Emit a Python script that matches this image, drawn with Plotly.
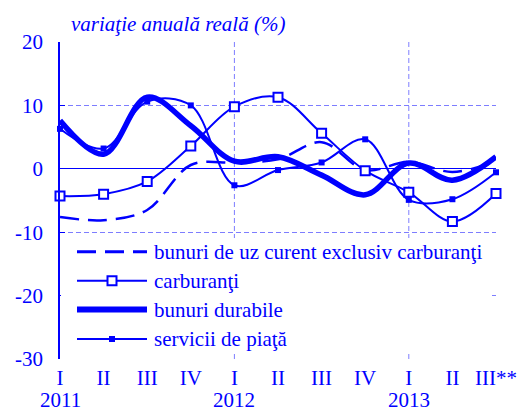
import plotly.graph_objects as go

quarters = ["I", "II", "III", "IV", "I", "II", "III", "IV", "I", "II", "III**"]
years = ["2011", "2012", "2013"]
year_pos = [0, 4, 8]
x_idx = list(range(len(quarters)))

uz_curent = [-7.6, -8.1, -6.5, 0.6, 1.0, 1.5, 4.2, -0.2, 1.1, -0.5, 1.2]
carburanti = [-4.3, -4.0, -2.0, 3.6, 9.8, 11.3, 5.6, -0.3, -3.7, -8.3, -3.9]
durabile = [7.6, 2.3, 11.3, 6.8, 1.2, 1.9, -1.0, -4.1, 0.9, -1.8, 1.9]
servicii = [6.3, 3.2, 10.6, 10.0, -2.6, -0.2, 1.0, 4.65, -4.9, -4.8, -0.55]

names = ["bunuri de uz curent exclusiv carburanţi", "carburanţi",
         "bunuri durabile", "servicii de piaţă"]
y_ticks = [-30, -20, -10, 0, 10, 20]
y_ticktext = ["-30", "-20", "-10", "0", "10", "20"]

BLUE = "#0000FF"
GRID = "rgba(70,70,255,0.7)"
FONT = "Liberation Serif"

fig = go.Figure()
fig.add_trace(go.Scatter(x=x_idx, y=uz_curent, mode="lines", name=names[0],
                         line=dict(color=BLUE, width=2.5, dash="19px,9px", shape="spline"),
                         cliponaxis=False))
fig.add_trace(go.Scatter(x=x_idx, y=carburanti, mode="lines+markers", name=names[1],
                         line=dict(color=BLUE, width=2, shape="spline"),
                         marker=dict(symbol="square", size=9, color="white",
                                     line=dict(color=BLUE, width=2)),
                         cliponaxis=False))
fig.add_trace(go.Scatter(x=x_idx, y=durabile, mode="lines", name=names[2],
                         line=dict(color=BLUE, width=5.5, shape="spline"),
                         cliponaxis=False))
fig.add_trace(go.Scatter(x=x_idx, y=servicii, mode="lines+markers", name=names[3],
                         line=dict(color=BLUE, width=2, shape="spline"),
                         marker=dict(symbol="square", size=6, color=BLUE),
                         cliponaxis=False))

# plot area geometry (px)
L, R, T, B = 60, 21, 42, 53
W, H = 517, 412
pw, ph = W - L - R, H - T - B


def px(xp):
    return (xp - L) / pw


def py(yp):
    return (H - B - yp) / ph


shapes = []
# vertical dashed gridlines at year starts
for xv in year_pos[1:]:
    shapes.append(dict(type="line", xref="x", yref="paper", x0=xv, x1=xv, y0=0, y1=1,
                       line=dict(color=GRID, width=1, dash="5px,3px"), layer="below"))
# legend box
shapes.append(dict(type="rect", xref="paper", yref="paper", x0=px(61), x1=px(490),
                   y0=py(354), y1=py(238), fillcolor="white", line=dict(width=0),
                   layer="above"))

rows = [251.7, 280.7, 309.5, 339]
annotations = []
for i, (nm, yr) in enumerate(zip(names, rows)):
    if i == 0:
        ln = dict(color=BLUE, width=3, dash="19px,9px")
    elif i == 2:
        ln = dict(color=BLUE, width=6)
    else:
        ln = dict(color=BLUE, width=2)
    shapes.append(dict(type="line", xref="paper", yref="paper", x0=px(77), x1=px(147),
                       y0=py(yr), y1=py(yr), line=ln, layer="above"))
    if i == 1:
        shapes.append(dict(type="rect", xref="paper", yref="paper", xsizemode="pixel",
                           ysizemode="pixel", xanchor=px(112), yanchor=py(yr),
                           x0=-4.5, x1=4.5, y0=-4.5, y1=4.5, fillcolor="white",
                           line=dict(color=BLUE, width=2), layer="above"))
    if i == 3:
        shapes.append(dict(type="rect", xref="paper", yref="paper", xsizemode="pixel",
                           ysizemode="pixel", xanchor=px(112), yanchor=py(yr),
                           x0=-3, x1=3, y0=-3, y1=3, fillcolor=BLUE,
                           line=dict(width=0), layer="above"))
    annotations.append(dict(text=nm, xref="paper", yref="paper", x=px(152), y=py(yr),
                            xanchor="left", yanchor="middle", showarrow=False,
                            font=dict(family=FONT, size=21, color=BLUE)))

# title
annotations.append(dict(text="<i>variaţie anuală reală (%)</i>", xref="paper", yref="paper",
                        x=px(69), y=py(24), xanchor="left", yanchor="middle",
                        showarrow=False, font=dict(family=FONT, size=21, color=BLUE)))
# years
for yv, xv in zip(years, year_pos):
    annotations.append(dict(text=yv, xref="x", yref="paper", x=xv, y=py(400),
                            xanchor="center", yanchor="middle", showarrow=False,
                            font=dict(family=FONT, size=21, color=BLUE)))

fig.update_layout(
    width=W, height=H,
    margin=dict(l=L, r=R, t=T, b=B),
    paper_bgcolor="white", plot_bgcolor="white",
    showlegend=False,
    shapes=shapes,
    annotations=annotations,
    font=dict(family=FONT, size=21, color=BLUE),
)
fig.update_xaxes(range=[0, 10], tickvals=x_idx, ticktext=quarters, showgrid=False,
                 zeroline=False, showline=False, ticks="", automargin=False,
                 tickfont=dict(family=FONT, size=21, color=BLUE), ticklabelstandoff=4)
fig.update_yaxes(range=[-30, 20], tickvals=y_ticks, ticktext=y_ticktext,
                 showgrid=True, gridcolor=GRID, griddash="5px,3px", gridwidth=1,
                 zeroline=True, zerolinecolor=BLUE, zerolinewidth=1,
                 showline=True, linecolor=BLUE, linewidth=1.5, automargin=False,
                 ticks="inside", ticklen=5, tickcolor=BLUE,
                 tickfont=dict(family=FONT, size=21, color=BLUE), ticklabelstandoff=11)

fig.write_html("out.html", config={"displayModeBar": False},
               post_script="document.body.style.margin='0';")
